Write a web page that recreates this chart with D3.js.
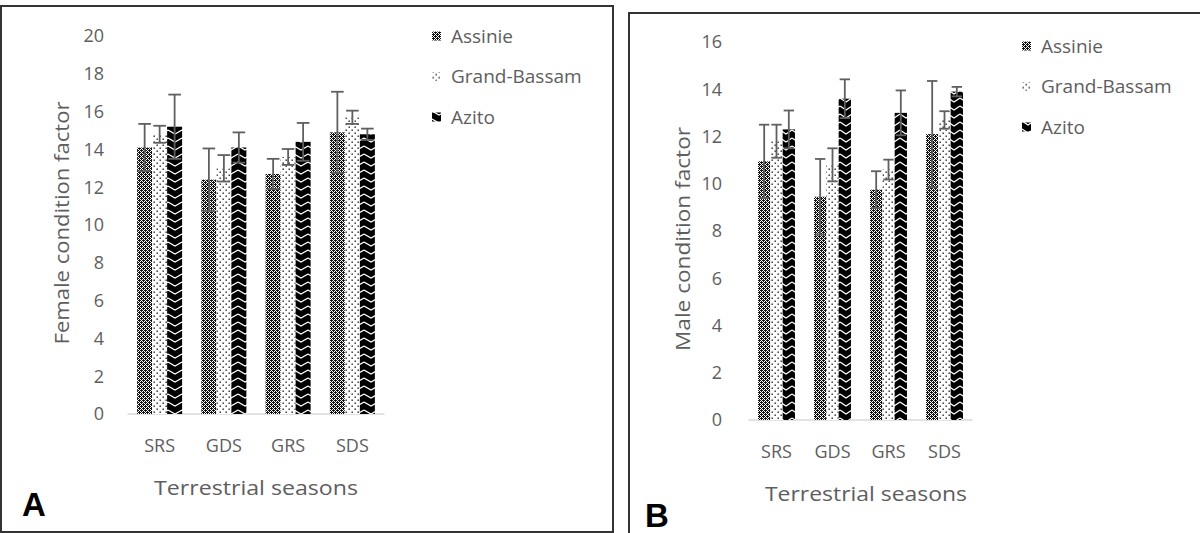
<!DOCTYPE html>
<html>
<head>
<meta charset="utf-8">
<script src="https://cdn.jsdelivr.net/npm/d3@7/dist/d3.min.js"></script>
<style>
body { margin: 0; background: #fff; }
text { font-family: "Open Sans", "Noto Sans", sans-serif; fill: #5e5e5e; }
</style>
</head>
<body>
<script>
// categories and series
var seasons = ["SRS", "GDS", "GRS", "SDS"];
var sites = ["Assinie", "Grand-Bassam", "Azito"];

// panel A, female condition factor (mean and error per site)
var femaleAssinie = [14.1, 12.4, 12.7, 14.9];
var femaleGrandBassam = [14.8, 13.0, 13.6, 15.7];
var femaleAzito = [15.2, 14.1, 14.4, 14.8];
var femaleAssinieErr = [1.25, 1.65, 0.8, 2.15];
var femaleGrandBassamErr = [0.45, 0.7, 0.42, 0.35];
var femaleAzitoErr = [1.7, 0.8, 1.0, 0.3];
var femaleTicks = [0, 2, 4, 6, 8, 10, 12, 14, 16, 18, 20];

// panel B, male condition factor
var maleAssinie = [10.95, 9.45, 9.75, 12.1];
var maleGrandBassam = [11.8, 10.8, 10.6, 12.7];
var maleAzito = [12.3, 13.6, 13.0, 13.9];
var maleAssinieErr = [1.55, 1.6, 0.78, 2.25];
var maleGrandBassamErr = [0.7, 0.7, 0.42, 0.37];
var maleAzitoErr = [0.8, 0.82, 0.95, 0.2];
var maleTicks = [0, 2, 4, 6, 8, 10, 12, 14, 16];

var svg = d3.select("body").append("svg")
	.attr("width", 1200)
	.attr("height", 533);

var defs = svg.append("defs");

// fill patterns, one per site (w = tile width)
function makePatterns(suffix, w) {
	// assinie: dense dark dither
	var p1 = defs.append("pattern").attr("id", "pAss" + suffix)
		.attr("patternUnits", "userSpaceOnUse").attr("width", 4).attr("height", 4);
	p1.append("rect").attr("width", 4).attr("height", 4).attr("fill", "#fff");
	[[0, 0], [2, 0], [1, 1], [3, 1], [0, 2], [2, 2], [1, 3], [3, 3], [1, 2], [3, 0]].forEach(function(c) {
		p1.append("rect").attr("x", c[0]).attr("y", c[1]).attr("width", 1).attr("height", 1).attr("fill", "#111");
	});

	// grand-bassam: sparse dots
	var p2 = defs.append("pattern").attr("id", "pGB" + suffix)
		.attr("patternUnits", "userSpaceOnUse").attr("width", 6).attr("height", 6);
	p2.append("rect").attr("width", 6).attr("height", 6).attr("fill", "#fff");
	p2.append("rect").attr("x", 0.5).attr("y", 0.5).attr("width", 1.4).attr("height", 1.4).attr("fill", "#222");
	p2.append("rect").attr("x", 3.5).attr("y", 3.5).attr("width", 1.4).attr("height", 1.4).attr("fill", "#222");

	// azito: black with white chevrons
	var p3 = defs.append("pattern").attr("id", "pAz" + suffix)
		.attr("patternUnits", "userSpaceOnUse").attr("width", w).attr("height", 8);
	p3.append("rect").attr("width", w).attr("height", 8).attr("fill", "#000");
	p3.append("polyline")
		.attr("points", "0,2 " + (w / 2) + ",6 " + w + ",2")
		.attr("fill", "none").attr("stroke", "#fff").attr("stroke-width", 1.3);
}
makePatterns("A", 14);
makePatterns("B", 12);

function drawPanel(cfg) {
	var g = svg.append("g");

	// frame round the panel
	g.append("rect")
		.attr("x", cfg.frame[0]).attr("y", cfg.frame[1])
		.attr("width", cfg.frame[2]).attr("height", cfg.frame[3])
		.attr("fill", "none").attr("stroke", "#333").attr("stroke-width", 2);

	var x = d3.scaleBand().domain(seasons).range(cfg.xRange).paddingInner(cfg.pad).paddingOuter(cfg.pad / 2);
	var xSite = d3.scaleBand().domain(sites).range([0, x.bandwidth()]);
	var y = d3.scaleLinear().domain([0, d3.max(cfg.ticks)]).range(cfg.yRange);

	// y tick labels, no axis line
	g.selectAll(".ytick").data(cfg.ticks).enter().append("text")
		.attr("x", cfg.tickX).attr("y", function(d) { return y(d); })
		.attr("dy", "0.35em").attr("text-anchor", "end")
		.style("font-size", "18px")
		.text(function(d) { return d; });

	// baseline
	g.append("line")
		.attr("x1", cfg.xRange[0]).attr("x2", cfg.xRange[1])
		.attr("y1", y(0)).attr("y2", y(0))
		.attr("stroke", "#d9d9d9").attr("stroke-width", 1.5);

	var rows = [];
	cfg.series.forEach(function(s, si) {
		seasons.forEach(function(season, ci) {
			rows.push({ season: season, site: sites[si], value: s.values[ci], err: s.err[ci], fill: s.fill });
		});
	});

	g.selectAll(".bar").data(rows).enter().append("rect")
		.attr("x", function(d) { return x(d.season) + xSite(d.site); })
		.attr("y", function(d) { return y(d.value); })
		.attr("width", xSite.bandwidth())
		.attr("height", function(d) { return y(0) - y(d.value); })
		.attr("fill", function(d) { return d.fill; });

	// error bars
	var cap = xSite.bandwidth() * 0.42;
	var eb = g.selectAll(".err").data(rows).enter().append("g")
		.attr("transform", function(d) { return "translate(" + (x(d.season) + xSite(d.site) + xSite.bandwidth() / 2) + ",0)"; })
		.attr("stroke", "#5f5f5f").attr("stroke-width", 1.8);
	eb.append("line").attr("y1", function(d) { return y(d.value - d.err); }).attr("y2", function(d) { return y(d.value + d.err); });
	eb.append("line").attr("x1", -cap).attr("x2", cap)
		.attr("y1", function(d) { return y(d.value + d.err); }).attr("y2", function(d) { return y(d.value + d.err); });
	eb.append("line").attr("x1", -cap).attr("x2", cap)
		.attr("y1", function(d) { return y(d.value - d.err); }).attr("y2", function(d) { return y(d.value - d.err); });

	// category labels
	g.selectAll(".xlab").data(seasons).enter().append("text")
		.attr("x", function(d) { return x(d) + x.bandwidth() / 2; })
		.attr("y", cfg.catY).attr("dy", "0.35em").attr("text-anchor", "middle")
		.style("font-size", "18px")
		.text(function(d) { return d; });

	// axis titles
	g.append("text")
		.attr("x", cfg.xTitle[0]).attr("y", cfg.xTitle[1])
		.attr("dy", "0.35em").attr("text-anchor", "middle")
		.attr("textLength", cfg.xTitle[2]).attr("lengthAdjust", "spacingAndGlyphs")
		.style("font-size", "20px")
		.text("Terrestrial seasons");
	g.append("text")
		.attr("transform", "translate(" + cfg.yTitle[0] + "," + cfg.yTitle[1] + ") rotate(-90)")
		.attr("dy", "0.35em").attr("text-anchor", "middle")
		.attr("textLength", cfg.yTitle[2]).attr("lengthAdjust", "spacingAndGlyphs")
		.style("font-size", "20px")
		.text(cfg.yTitle[3]);

	// legend
	var lg = g.selectAll(".leg").data(cfg.series).enter().append("g")
		.attr("transform", function(d, i) { return "translate(" + cfg.legend[0] + "," + (cfg.legend[1] + i * cfg.legend[2]) + ")"; });
	lg.append("rect").attr("x", 0).attr("y", -4.5).attr("width", 9).attr("height", 9)
		.attr("fill", function(d) { return d.fill; });
	lg.append("text").attr("x", 19).attr("dy", "0.35em")
		.style("font-size", "19px")
		.text(function(d, i) { return sites[i]; });

	// panel letter
	g.append("text")
		.attr("x", cfg.letter[0]).attr("y", cfg.letter[1])
		.style("font-family", "'Liberation Sans', Arial, sans-serif")
		.style("font-weight", "bold").style("font-size", "33px").style("fill", "#000")
		.text(cfg.letter[2]);
}

drawPanel({
	frame: [1, 6, 612, 526],
	xRange: [127.5, 384.5],
	pad: 0.3,
	yRange: [414, 36],
	ticks: femaleTicks,
	tickX: 104,
	catY: 446,
	xTitle: [256, 488, 204],
	yTitle: [62, 223, 243, "Female condition factor"],
	legend: [432, 36, 40.5],
	letter: [22, 516, "A"],
	series: [
		{ values: femaleAssinie, err: femaleAssinieErr, fill: "url(#pAssA)" },
		{ values: femaleGrandBassam, err: femaleGrandBassamErr, fill: "url(#pGBA)" },
		{ values: femaleAzito, err: femaleAzitoErr, fill: "url(#pAzA)" }
	]
});

drawPanel({
	frame: [629, 13, 600, 540],
	xRange: [748.5, 972.5],
	pad: 0.34,
	yRange: [420, 42],
	ticks: maleTicks,
	tickX: 722,
	catY: 452,
	xTitle: [866, 494, 202],
	yTitle: [683, 239, 224, "Male condition factor"],
	legend: [1022, 46, 40.5],
	letter: [645, 527, "B"],
	series: [
		{ values: maleAssinie, err: maleAssinieErr, fill: "url(#pAssB)" },
		{ values: maleGrandBassam, err: maleGrandBassamErr, fill: "url(#pGBB)" },
		{ values: maleAzito, err: maleAzitoErr, fill: "url(#pAzB)" }
	]
});
</script>
</body>
</html>
